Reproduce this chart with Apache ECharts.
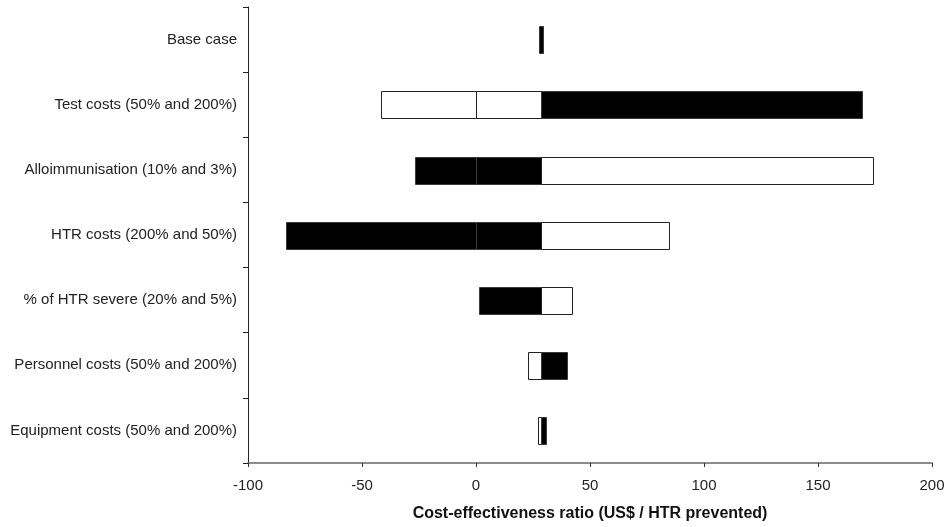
<!DOCTYPE html>
<html>
<head>
<meta charset="utf-8">
<script src="https://cdn.jsdelivr.net/npm/echarts@6/dist/echarts.min.js"></script>
<style>
  html, body { margin: 0; padding: 0; background: #fff; }
  #chart { width: 950px; height: 527px; }
</style>
</head>
<body>
<div id="chart"></div>
<script>
var categories = [
    'Base case',
    'Test costs (50% and 200%)',
    'Alloimmunisation (10% and 3%)',
    'HTR costs (200% and 50%)',
    '% of HTR severe (20% and 5%)',
    'Personnel costs (50% and 200%)',
    'Equipment costs (50% and 200%)'
];
var baseValue = 28.3;
var lowerValues = [27.6, -41.7, -26.6, -83.5, 1.5, 22.8, 27.3];
var upperValues = [29.4, 169.2, 174.1, 84.6, 42.1, 39.8, 30.6];
var lowerColors = ['#000', '#fff', '#000', '#000', '#000', '#fff', '#fff'];
var upperColors = ['#000', '#000', '#fff', '#fff', '#fff', '#000', '#000'];
var xTicks = [-100, -50, 0, 50, 100, 150, 200];

// build bar pieces; lower part splits at 0 like the original stacked bars
var pieces = [];
for (var i = 0; i < categories.length; i++) {
    var lo = lowerValues[i], hi = upperValues[i];
    if (i === 0) {
        pieces.push({ value: [i, lo, hi], itemStyle: { color: '#000' } });
        continue;
    }
    if (lo < 0 && baseValue > 0) {
        pieces.push({ value: [i, lo, 0], itemStyle: { color: lowerColors[i] } });
        pieces.push({ value: [i, 0, baseValue], itemStyle: { color: lowerColors[i] } });
    } else {
        pieces.push({ value: [i, lo, baseValue], itemStyle: { color: lowerColors[i] } });
    }
    pieces.push({ value: [i, baseValue, hi], itemStyle: { color: upperColors[i] } });
}

function renderBar(params, api) {
    var cat = api.value(0);
    var p0 = api.coord([api.value(1), cat]);
    var p1 = api.coord([api.value(2), cat]);
    var h = api.size([0, 1])[1] * 0.41;
    var fill = api.visual('color');
    return {
        type: 'rect',
        shape: {
            x: Math.round(p0[0]) + 0.5,
            y: Math.round(p0[1] - h / 2) + 0.5,
            width: Math.round(p1[0]) - Math.round(p0[0]),
            height: Math.round(h)
        },
        style: {
            fill: fill,
            stroke: fill === '#000' ? '#3a3a3a' : '#222',
            lineWidth: 1
        }
    };
}

var chart = echarts.init(document.getElementById('chart'));
chart.setOption({
    animation: false,
    textStyle: { fontFamily: 'Liberation Sans, Arial, sans-serif' },
    grid: { left: 248, right: 18, top: 7, bottom: 63 },
    xAxis: {
        type: 'value',
        min: xTicks[0],
        max: xTicks[xTicks.length - 1],
        interval: 50,
        name: 'Cost-effectiveness ratio (US$ / HTR prevented)',
        nameLocation: 'middle',
        nameGap: 43,
        nameTextStyle: { fontSize: 16, fontWeight: 'bold', color: '#111' },
        axisLine: { show: true, onZero: false, lineStyle: { color: '#666', width: 1.5 } },
        axisTick: { show: true, length: 4, lineStyle: { color: '#333' } },
        axisLabel: { fontSize: 15, color: '#222', margin: 15 },
        splitLine: { show: false }
    },
    yAxis: {
        type: 'category',
        data: categories,
        inverse: true,
        axisLine: { show: true, onZero: false, lineStyle: { color: '#222', width: 1 } },
        axisTick: { show: true, length: 5, lineStyle: { color: '#222' } },
        axisLabel: { fontSize: 15, color: '#222', margin: 11, padding: [3, 0, 0, 0] }
    },
    series: [{
        type: 'custom',
        renderItem: renderBar,
        encode: { x: [1, 2], y: 0 },
        data: pieces
    }]
});
</script>
</body>
</html>
